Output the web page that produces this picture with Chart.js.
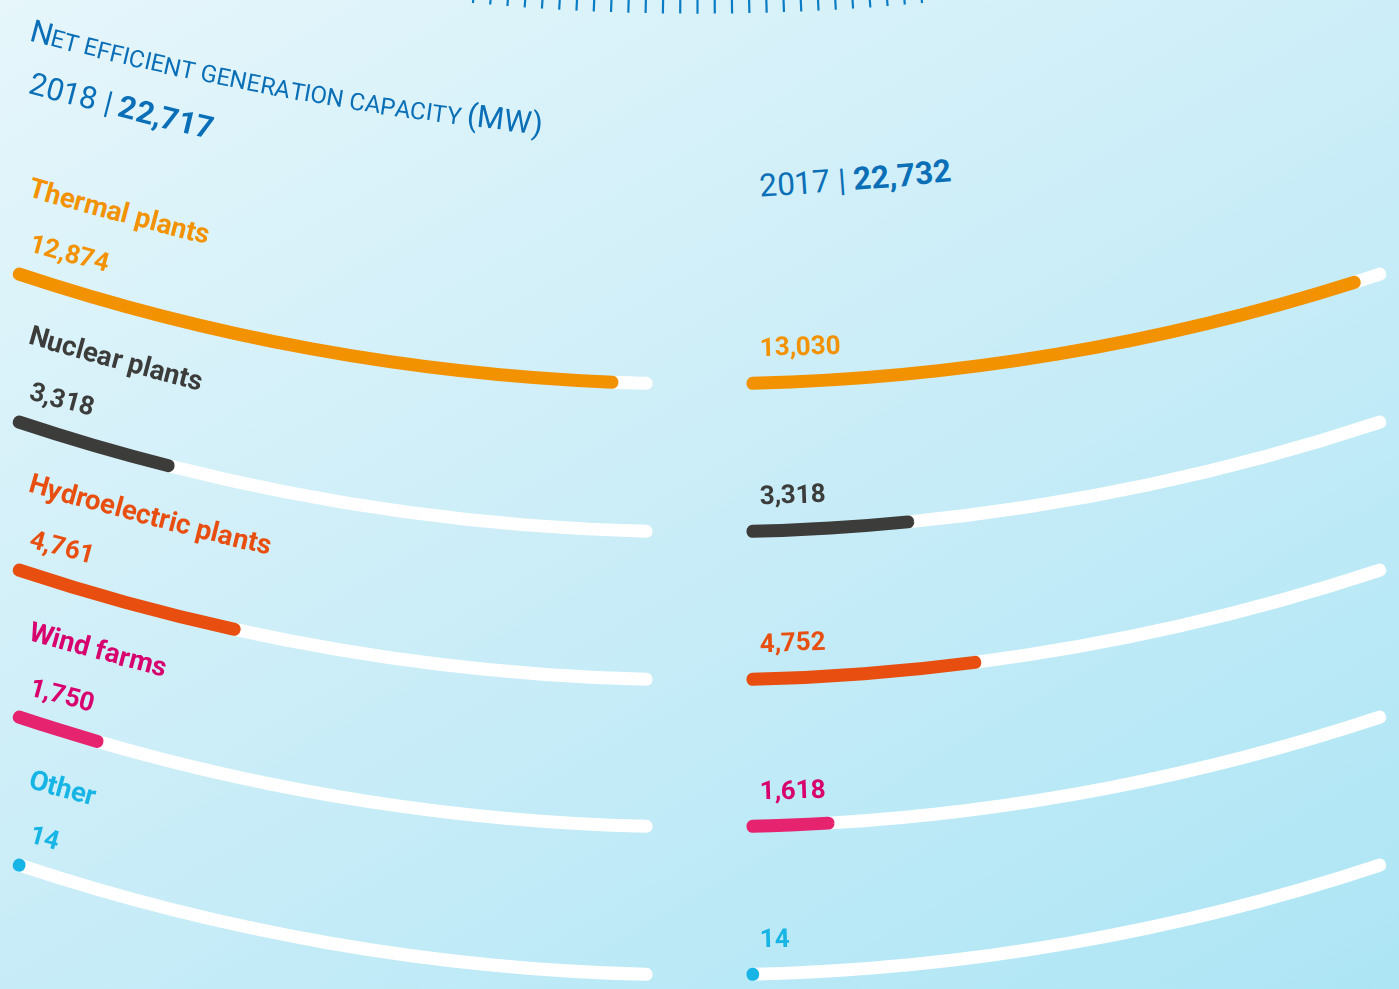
<!DOCTYPE html>
<html>
<head>
<meta charset="utf-8">
<script src="https://cdn.jsdelivr.net/npm/chart.js@4.4.1/dist/chart.umd.min.js"></script>
<style>
html,body{margin:0;padding:0;width:1399px;height:989px;overflow:hidden}
body{position:relative;background:linear-gradient(150deg,#e6f6fb 0%,#cdeef8 45%,#ade5f5 100%);font-family:Roboto,"Open Sans",sans-serif}
canvas{position:absolute}
.ch{position:absolute;white-space:pre;line-height:1;margin:0;padding:0}
</style>
</head>
<body>
<script>
// ---------------- data ----------------
const categories = ['Thermal plants', 'Nuclear plants', 'Hydroelectric plants', 'Wind farms', 'Other'];
const values2018 = [12874, 3318, 4761, 1750, 14];
const values2017 = [13030, 3318, 4752, 1618, 14];
const yearLabels = ['2018', '2017'];
const yearTotals = ['22,717', '22,732'];
const valueLabels2018 = ['12,874', '3,318', '4,761', '1,750', '14'];
const valueLabels2017 = ['13,030', '3,318', '4,752', '1,618', '14'];
const titleText = 'Net efficient generation capacity (MW)';

// ---------------- styles ----------------
const barColors  = ['#f39200', '#3c3c3b', '#e84e0f', '#e6236f', '#17b5e5'];
const textColors = ['#f39200', '#3c3c3b', '#e84e0f', '#d7006d', '#17b5e5'];
const TRACK = '#ffffff';
const BLUE = '#0a6fb6';
const SCALE_MAX = 13600;

// geometry of the curved tracks (layout only)
const GEO = {cx: 699.5, R: 2160.85, outerHalf: 18.36, innerHalf: 1.405, thick: 13, step: 147.8, firstBottom: 383.95, H: 190};
const W = 1399;

function placeDoughnut(cyPage, Ro, Ri, halfDeg, H, left) {
  const c = Ri / Ro, k = Math.cos(halfDeg * Math.PI / 180);
  const top = cyPage - H / 2 + (1 + k * c) / 2 * Ro;
  const cv = document.createElement('canvas');
  cv.width = W; cv.height = H;
  cv.style.left = (left || 0) + 'px';
  cv.style.top = top + 'px';
  document.body.appendChild(cv);
  return cv;
}

const gapValue = SCALE_MAX * (2 * GEO.innerHalf) / (GEO.outerHalf - GEO.innerHalf);
const clear = 'rgba(0,0,0,0)';

categories.forEach((cat, i) => {
  const bottom = GEO.firstBottom + i * GEO.step;
  const Ro = GEO.R + 0.5, Ri = GEO.R - 0.5;
  const cyPage = bottom - GEO.R;
  const cv = placeDoughnut(cyPage, Ro, Ri, GEO.outerHalf, GEO.H);
  const data = [SCALE_MAX - values2017[i], values2017[i], gapValue, SCALE_MAX - values2018[i], values2018[i]];
  const colors = [TRACK, barColors[i], clear, TRACK, barColors[i]];
  const bw = GEO.thick - 1;
  new Chart(cv, {
    type: 'doughnut',
    data: {
      labels: ['2017 rest', '2017 ' + cat, 'gap', '2018 rest', '2018 ' + cat],
      datasets: [{
        data,
        backgroundColor: colors,
        borderColor: colors,
        borderWidth: [bw, bw, 0, bw, bw],
        borderJoinStyle: 'round',
        borderAlign: 'center'
      }]
    },
    options: {
      responsive: false,
      animation: false,
      devicePixelRatio: 1,
      events: [],
      rotation: 180 - GEO.outerHalf,
      circumference: 2 * GEO.outerHalf,
      radius: Ro,
      cutout: (100 * Ri / Ro) + '%',
      layout: {padding: 0},
      plugins: {legend: {display: false}, tooltip: {enabled: false}, title: {display: false}}
    }
  });
});

// decorative dial ticks at the top
(function () {
  const N = 27, tickPx = 2.2, gapPx = 15.1, Ro = 2380, Ri = 2354;
  const pattern = [gapPx / 2];
  const cols = [clear];
  for (let j = 0; j < N; j++) {
    pattern.push(tickPx); cols.push('#0a7cc4');
    pattern.push(j === N - 1 ? gapPx / 2 : gapPx); cols.push(clear);
  }
  const totalPx = N * (tickPx + gapPx);
  const circDeg = totalPx / Ro * 180 / Math.PI;
  const H = 60;
  const cv = placeDoughnut(13.5 - Ro, Ro, Ri, circDeg / 2, H, -2.5);
  new Chart(cv, {
    type: 'doughnut',
    data: {labels: pattern.map(() => ''), datasets: [{data: pattern, backgroundColor: cols, borderWidth: 0}]},
    options: {
      responsive: false, animation: false, devicePixelRatio: 1, events: [],
      rotation: 180 - circDeg / 2, circumference: circDeg, radius: Ro, cutout: (100 * Ri / Ro) + '%',
      layout: {padding: 0}, plugins: {legend: {display: false}, tooltip: {enabled: false}}
    }
  });
})();

// ---------------- text along gentle arcs ----------------
function arcText(parts, o) {
  const rad = Math.PI / 180;
  const phi0 = o.angle * rad;
  const R = o.radius || 5500;
  const xc = o.x + R * Math.sin(phi0);
  const yc = o.y - R * Math.cos(phi0);
  let s = 0;
  for (const p of parts) {
    const size = p.size || o.size;
    const base = 0.8418 * size;
    for (const ch of p.text) {
      const sp = document.createElement('span');
      sp.className = 'ch';
      sp.textContent = ch;
      sp.style.fontFamily = 'Roboto, "Open Sans", sans-serif';
      sp.style.fontSize = size + 'px';
      sp.style.fontWeight = p.weight || o.weight || 400;
      if (p.upper) sp.style.textTransform = 'uppercase';
      sp.style.color = p.color || o.color;
      document.body.appendChild(sp);
      const w = sp.getBoundingClientRect().width;
      const phi = phi0 - (s + w / 2) / R;
      const px = xc - R * Math.sin(phi);
      const py = yc + R * Math.cos(phi);
      sp.style.left = (px - w / 2) + 'px';
      sp.style.top = (py - base) + 'px';
      sp.style.transformOrigin = (w / 2) + 'px ' + base + 'px';
      sp.style.transform = 'rotate(' + (phi / rad) + 'deg)';
      s += w + (o.spacing || 0);
    }
  }
}

// title in small capitals: first capital and the unit keep full size
const unitStart = titleText.indexOf('(');
arcText([
  {text: titleText.slice(0, 1), size: 31},
  {text: titleText.slice(1, unitStart), size: 24, upper: true},
  {text: titleText.slice(unitStart), size: 31}
], {x: 28, y: 40, angle: 15, radius: 3250, color: BLUE});

arcText([{text: yearLabels[0] + ' '}, {text: '| '}, {text: yearTotals[0], weight: 700}], {x: 27, y: 93, angle: 15, radius: 6000, size: 31, color: BLUE});
arcText([{text: yearLabels[1] + ' '}, {text: '| '}, {text: yearTotals[1], weight: 700}], {x: 760, y: 197, angle: -3.5, radius: 6000, size: 31.5, color: BLUE});

categories.forEach((cat, i) => {
  const d = i * GEO.step;
  arcText([{text: cat, weight: 700}], {x: 27, y: 196 + d, angle: 16, size: 27.5, color: textColors[i]});
  arcText([{text: valueLabels2018[i], weight: 700}], {x: 28, y: 251 + d, angle: 15.5, size: 26, color: textColors[i]});
  arcText([{text: valueLabels2017[i], weight: 700}], {x: 760, y: 356 + d, angle: -1.5, size: 26, color: textColors[i]});
});
</script>
</body>
</html>
